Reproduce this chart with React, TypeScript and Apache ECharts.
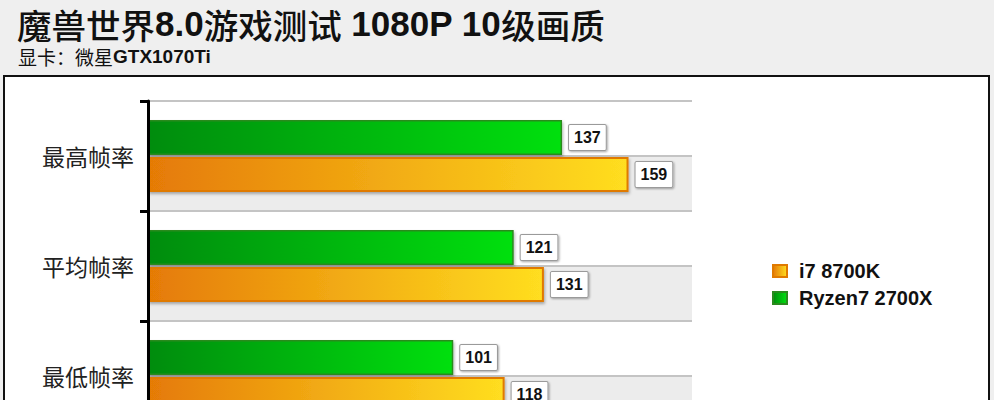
import React, { useEffect, useRef } from "react";
import * as echarts from "echarts";

const categories = ["最高帧率", "平均帧率", "最低帧率"];
const seriesNames = ["Ryzen7 2700X", "i7 8700K"];
const ryzenValues = [137, 121, 101];
const intelValues = [159, 131, 118];
const halfBands = ["a", "b", "c", "d", "e", "f"];

const CJK = '"Noto Sans CJK SC", "Microsoft YaHei", sans-serif';
const LATIN = '"Liberation Sans", Arial, sans-serif';

export default function App() {
  const ref = useRef<HTMLDivElement>(null);
  useEffect(() => {
    document.body.style.margin = "0";
    document.body.style.overflow = "hidden";
    document.documentElement.style.overflow = "hidden";
    const chart = echarts.init(ref.current!, null, { renderer: "svg" });
    const greenGrad = new echarts.graphic.LinearGradient(0, 0, 1, 0, [
      { offset: 0, color: "#008c0a" },
      { offset: 1, color: "#00e010" },
    ]);
    const orangeGrad = new echarts.graphic.LinearGradient(0, 0, 1, 0, [
      { offset: 0, color: "#e57a06" },
      { offset: 1, color: "#ffde20" },
    ]);
    const label = {
      show: true,
      position: "right",
      distance: 7,
      backgroundColor: "#ffffff",
      borderColor: "#9a9a9a",
      borderWidth: 1,
      borderRadius: 1,
      padding: [5, 5, 4, 5],
      fontSize: 16,
      fontWeight: "bold",
      fontFamily: LATIN,
      color: "#111",
      shadowColor: "rgba(0,0,0,0.35)",
      shadowOffsetX: 1,
      shadowOffsetY: 1,
      shadowBlur: 2,
    };
    chart.setOption({
      animation: false,
      backgroundColor: "#efefef",
      graphic: [
        {
          type: "rect",
          z: -10,
          shape: { x: 4, y: 76, width: 985, height: 400 },
          style: { fill: "#ffffff", stroke: "#111111", lineWidth: 2 },
        },
        {
          type: "text",
          x: 17,
          y: 6,
          style: {
            text: "{c|魔兽世界}{b|8.0}{c|游戏测试}{b| 1080P 10}{c|级画质}",
            rich: {
              c: { fontFamily: CJK, fontSize: 34.5, lineHeight: 35, fill: "#111", fontWeight: 500 },
              b: { fontFamily: LATIN, fontSize: 35, lineHeight: 35, fill: "#111", fontWeight: "bold" },
            },
          },
        },
        {
          type: "text",
          x: 18,
          y: 47,
          style: {
            text: "{c|显卡：微星}{b|GTX1070Ti}",
            rich: {
              c: { fontFamily: CJK, fontSize: 19, lineHeight: 19, fill: "#111" },
              b: { fontFamily: LATIN, fontSize: 19, lineHeight: 19, fill: "#111", fontWeight: "bold" },
            },
          },
        },
      ],
      legend: {
        data: ["i7 8700K", "Ryzen7 2700X"],
        orient: "vertical",
        left: 767,
        top: 256,
        icon: "rect",
        itemWidth: 14,
        itemHeight: 12,
        itemGap: 7,
        textStyle: {
          fontFamily: LATIN,
          fontWeight: "bold",
          fontSize: 20,
          color: "#111",
          padding: [0, 0, 0, 7],
        },
      },
      grid: { left: 148, top: 101, width: 544, height: 330 },
      xAxis: {
        type: "value",
        min: 0,
        max: 180,
        show: false,
        splitLine: { show: false },
      },
      yAxis: [
        {
          type: "category",
          data: categories,
          inverse: true,
          axisLine: { show: true, lineStyle: { color: "#000", width: 3 } },
          axisTick: { show: true, length: 8, lineStyle: { color: "#000", width: 3 } },
          axisLabel: { fontFamily: CJK, fontSize: 23, color: "#222", margin: 14 },
          splitLine: { show: false },
          z: 5,
        },
        {
          type: "category",
          data: halfBands,
          inverse: true,
          position: "left",
          axisLine: { show: false },
          axisTick: { show: false },
          axisLabel: { show: false },
          splitLine: { show: true, lineStyle: { color: "#c4c4c4", width: 2 } },
          splitArea: { show: true, areaStyle: { color: ["#ffffff", "#ececec"] } },
        },
      ],
      series: [
        {
          name: seriesNames[0],
          type: "bar",
          yAxisIndex: 0,
          data: ryzenValues,
          barWidth: 35,
          barGap: "6%",
          itemStyle: {
            color: greenGrad,
            borderColor: "#2a8a1e",
            borderWidth: 1.5,
            shadowColor: "rgba(0,0,0,0.3)",
            shadowOffsetX: 1,
            shadowOffsetY: 2,
            shadowBlur: 3,
          },
          label,
        },
        {
          name: seriesNames[1],
          type: "bar",
          yAxisIndex: 0,
          data: intelValues,
          barWidth: 35,
          barGap: "6%",
          itemStyle: {
            color: orangeGrad,
            borderColor: "#e07a00",
            borderWidth: 2,
            shadowColor: "rgba(0,0,0,0.3)",
            shadowOffsetX: 1,
            shadowOffsetY: 2,
            shadowBlur: 3,
          },
          label,
        },
      ],
    });
    return () => chart.dispose();
  }, []);
  return <div ref={ref} style={{ width: 994, height: 440 }} />;
}
